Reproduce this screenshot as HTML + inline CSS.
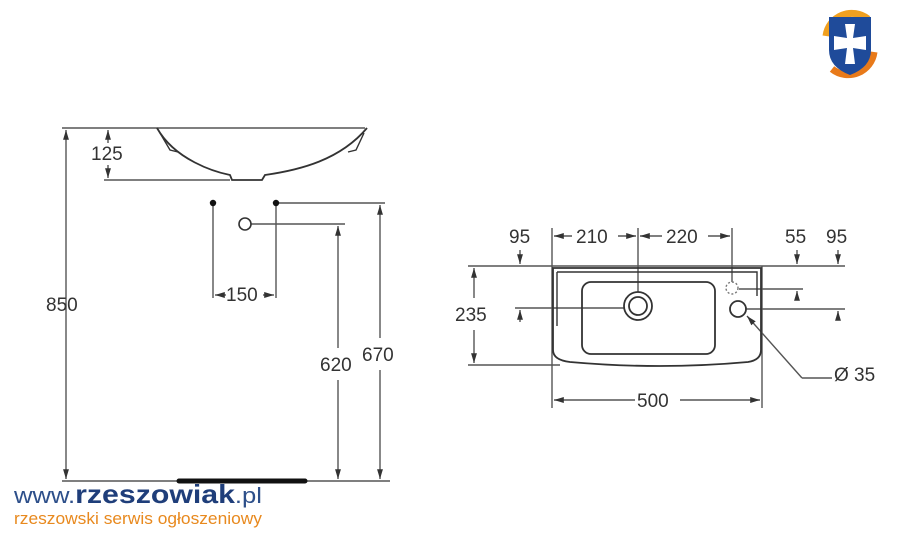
<!DOCTYPE html><html><head><style>body{margin:0;background:#fff}svg{display:block}</style></head><body>
<svg width="900" height="546" viewBox="0 0 900 546" xmlns="http://www.w3.org/2000/svg" font-family="Liberation Sans, sans-serif">
<defs><marker id="a" viewBox="0 0 10 10" refX="10" refY="5" markerWidth="7" markerHeight="7" orient="auto-start-reverse"><path d="M0,2L10,5L0,8z" fill="#333"/></marker></defs>
<g stroke="#555" stroke-width="1.4" fill="none">
<line x1="62" y1="128" x2="365" y2="128"/>
<line x1="66" y1="130" x2="66" y2="479" marker-start="url(#a)" marker-end="url(#a)"/>
<line x1="62" y1="481" x2="390" y2="481"/>
<line x1="108" y1="130" x2="108" y2="143" marker-start="url(#a)"/>
<line x1="108" y1="165" x2="108" y2="178" marker-end="url(#a)"/>
<line x1="104" y1="180" x2="230" y2="180"/>
<path d="M157,128 C175,160 215,172 230,175 L232,180 L262,180 L265,175 C300,170 340,160 367,128" stroke="#333" stroke-width="1.8"/>
<path d="M160,133 L170,150 L178,152 M364,133 L356,150 L348,152" stroke="#333"/>
<line x1="213" y1="203" x2="213" y2="298"/>
<line x1="276" y1="203" x2="276" y2="298"/>
<line x1="215" y1="295" x2="226" y2="295" marker-start="url(#a)"/>
<line x1="263" y1="295" x2="274" y2="295" marker-end="url(#a)"/>
<line x1="276" y1="203" x2="385" y2="203"/>
<line x1="251" y1="224" x2="345" y2="224"/>
<circle cx="245" cy="224" r="6" stroke="#333" stroke-width="1.6"/>
<line x1="338" y1="226" x2="338" y2="348" marker-start="url(#a)"/>
<line x1="338" y1="380" x2="338" y2="479" marker-end="url(#a)"/>
<line x1="380" y1="205" x2="380" y2="338" marker-start="url(#a)"/>
<line x1="380" y1="370" x2="380" y2="479" marker-end="url(#a)"/>
<line x1="468" y1="266" x2="845" y2="266"/>
<line x1="468" y1="365" x2="560" y2="365"/>
<line x1="474" y1="268" x2="474" y2="298" marker-start="url(#a)"/>
<line x1="474" y1="330" x2="474" y2="363" marker-end="url(#a)"/>
<line x1="552" y1="228" x2="552" y2="408"/>
<line x1="762" y1="266" x2="762" y2="408"/>
<line x1="638" y1="228" x2="638" y2="292"/>
<line x1="732" y1="228" x2="732" y2="282"/>
<line x1="554" y1="236" x2="572" y2="236" marker-start="url(#a)"/>
<line x1="618" y1="236" x2="636" y2="236" marker-end="url(#a)"/>
<line x1="640" y1="236" x2="662" y2="236" marker-start="url(#a)"/>
<line x1="708" y1="236" x2="730" y2="236" marker-end="url(#a)"/>
<line x1="554" y1="400" x2="635" y2="400" marker-start="url(#a)"/>
<line x1="680" y1="400" x2="760" y2="400" marker-end="url(#a)"/>
<line x1="520" y1="250" x2="520" y2="264" marker-end="url(#a)"/>
<line x1="520" y1="322" x2="520" y2="310" marker-end="url(#a)"/>
<line x1="515" y1="308" x2="625" y2="308"/>
<line x1="797" y1="250" x2="797" y2="264" marker-end="url(#a)"/>
<line x1="797" y1="300" x2="797" y2="291" marker-end="url(#a)"/>
<line x1="838" y1="250" x2="838" y2="264" marker-end="url(#a)"/>
<line x1="838" y1="320" x2="838" y2="311" marker-end="url(#a)"/>
<line x1="739" y1="289" x2="803" y2="289"/>
<line x1="746" y1="309" x2="845" y2="309"/>
<path d="M802,378 L832,378 M802,378 L747,316" marker-end="url(#a)"/>
<path d="M553,268 L761,268 L761,350 Q761,360 748,362 Q660,370 570,362 Q553,360 553,350 Z" stroke="#333" stroke-width="1.8"/>
<path d="M557,272 L757,272 L757,296 M557,272 L557,326" stroke="#333"/>
<rect x="582" y="282" width="133" height="72" rx="9" stroke="#333" stroke-width="1.8"/>
<circle cx="638" cy="306" r="14" stroke="#333" stroke-width="1.8"/>
<circle cx="638" cy="306" r="9" stroke="#333" stroke-width="1.8"/>
<circle cx="732" cy="288" r="6" stroke="#777" stroke-dasharray="2,2"/>
<circle cx="738" cy="309" r="8" stroke="#333" stroke-width="1.8"/>
</g>
<circle cx="213" cy="203" r="3.2" fill="#111"/><circle cx="276" cy="203" r="3.2" fill="#111"/>
<line x1="179" y1="481" x2="305" y2="481" stroke="#111" stroke-width="5" stroke-linecap="round"/>
<g fill="#333" font-size="19">
<text x="91" y="160">125</text>
<text x="46" y="311">850</text>
<text x="226" y="301">150</text>
<text x="320" y="371">620</text>
<text x="362" y="361">670</text>
<text x="455" y="321">235</text>
<text x="509" y="243">95</text>
<text x="576" y="243">210</text>
<text x="666" y="243">220</text>
<text x="785" y="243">55</text>
<text x="826" y="243">95</text>
<text x="637" y="407">500</text>
<text x="834" y="381">Ø 35</text>
</g>
<text x="14" y="503" font-size="22" fill="#2d4f8a" textLength="248" lengthAdjust="spacingAndGlyphs">www.<tspan font-weight="bold" font-size="26" fill="#1f3e7a">rzeszowiak</tspan>.pl</text>
<text x="14" y="524" font-size="17" fill="#e8891e" textLength="248" lengthAdjust="spacingAndGlyphs">rzeszowski serwis ogłoszeniowy</text>
<g transform="translate(850,44)">
<path d="M-24,-8 A26,26 0 0 1 18,-25" stroke="#f0a020" stroke-width="7" fill="none"/>
<path d="M24,8 A26,26 0 0 1 -18,25" stroke="#e87a1a" stroke-width="7" fill="none"/>
<path d="M-21,-27 L21,-27 L21,6 Q21,23 0,31 Q-21,23 -21,6 Z" fill="#1f4b9a"/>
<path d="M-5,-20 L5,-20 L3,-6 L16,-8 L16,6 L3,4 L5,20 L-5,20 L-3,4 L-16,6 L-16,-8 L-3,-6 Z" fill="#fff"/>
</g>
</svg></body></html>
